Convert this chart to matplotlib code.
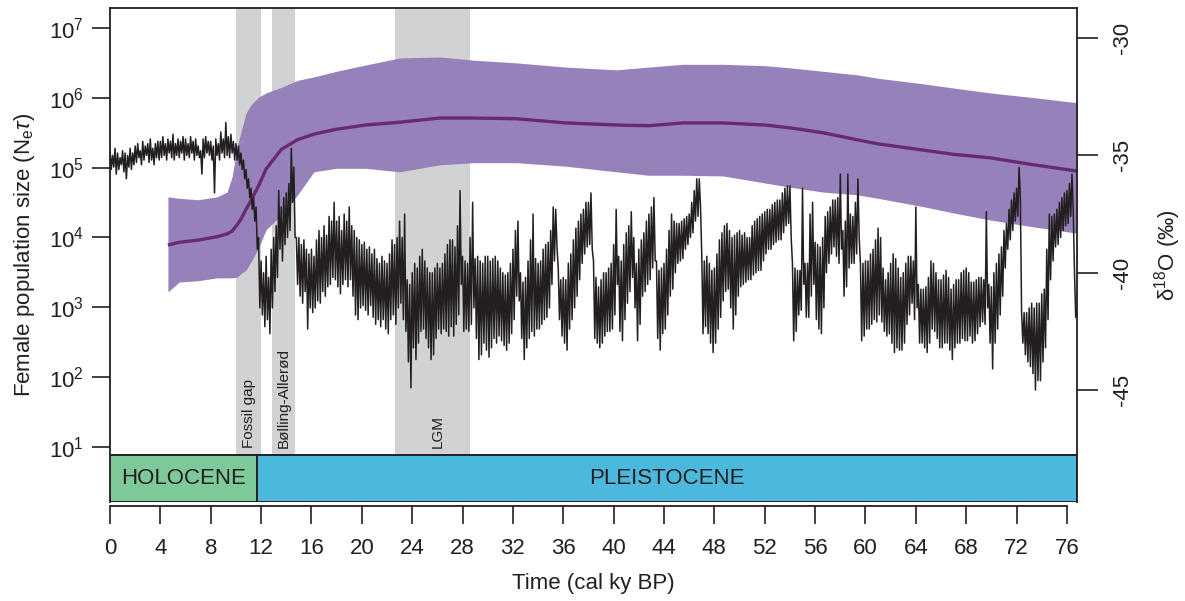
import numpy as np
import matplotlib
matplotlib.use('Agg')
import matplotlib.pyplot as plt
import matplotlib.transforms as mtransforms
from matplotlib.patches import Rectangle

plt.rcParams['font.family'] = ['Liberation Sans', 'DejaVu Sans']
plt.rcParams['mathtext.fontset'] = 'custom'
plt.rcParams['mathtext.rm'] = 'Liberation Sans'
plt.rcParams['mathtext.it'] = 'Liberation Sans:italic'
plt.rcParams['axes.unicode_minus'] = False

# --- data ---
# Ne*tau skyline (log10), median and 95% band
band_age = [4.6, 5.5, 7.0, 8.5, 9.3, 9.7, 10.1, 10.4, 10.8, 11.2, 11.8, 12.4,
            13.6, 14.9, 16.2, 18.0, 20.3, 23.0, 26.2, 28.8, 32.3, 36.2, 40.2,
            42.8, 45.5, 48.7, 52.0, 54.0, 56.6, 59.3, 61.0, 64.6, 67.0, 69.9,
            73.0, 76.8]
log_ne_hi = [4.58, 4.56, 4.54, 4.58, 4.65, 4.87, 5.30, 5.51, 5.78, 5.90, 6.01, 6.07,
             6.15, 6.25, 6.30, 6.38, 6.47, 6.57, 6.585, 6.54, 6.50, 6.44, 6.40,
             6.44, 6.48, 6.48, 6.46, 6.43, 6.38, 6.33, 6.28, 6.20, 6.14, 6.07,
             6.01, 5.93]
log_ne_med = [3.89, 3.93, 3.96, 4.01, 4.05, 4.09, 4.18, 4.26, 4.40, 4.53, 4.74, 4.98,
              5.26, 5.40, 5.48, 5.55, 5.61, 5.65, 5.71, 5.71, 5.70, 5.64, 5.61,
              5.60, 5.64, 5.64, 5.61, 5.57, 5.50, 5.40, 5.34, 5.25, 5.19, 5.14,
              5.05, 4.95]
log_ne_lo = [3.22, 3.36, 3.38, 3.42, 3.42, 3.42, 3.43, 3.48, 3.53, 3.65, 3.85, 4.11,
             4.32, 4.61, 4.94, 4.99, 4.99, 4.94, 5.04, 5.07, 5.07, 5.02, 4.94,
             4.89, 4.89, 4.88, 4.78, 4.72, 4.65, 4.61, 4.56, 4.44, 4.35, 4.25,
             4.16, 4.06]

# NGRIP d18O: highest and lowest value in each 0.2 ky step (0 - 76.8 ky)
d18o_hi = [
    -34.8, -35.0, -34.7, -34.9, -35.1, -34.8, -34.9, -35.0, -34.7, -34.9,
    -34.6, -34.5, -34.8, -34.4, -34.6, -34.5, -34.3, -34.7, -34.5, -34.4,
    -34.4, -34.2, -34.5, -34.3, -34.4, -34.1, -34.5, -34.3, -34.4, -34.2,
    -34.3, -34.5, -34.2, -34.4, -34.3, -34.6, -34.8, -34.3, -34.2, -34.4,
    -34.4, -34.6, -34.3, -34.5, -34.0, -34.3, -33.6, -34.2, -34.1, -34.4,
    -34.5, -34.6, -34.9, -35.2, -35.6, -36.0, -36.4, -36.8, -37.2, -38.5,
    -39.5, -40.0, -39.3, -40.2, -39.0, -38.5, -38.0, -36.5, -37.2, -36.8,
    -36.6, -36.2, -34.7, -35.5, -38.5, -38.5, -38.8, -38.6, -39.0, -39.2,
    -39.0, -39.3, -38.6, -38.2, -38.5, -38.0, -38.4, -37.6, -37.8, -37.0,
    -37.8, -37.6, -38.2, -37.5, -37.8, -37.2, -38.0, -38.2, -38.5, -38.6,
    -38.8, -38.7, -39.0, -38.9, -39.2, -39.0, -39.4, -39.6, -39.3, -39.5,
    -39.6, -39.2, -38.6, -38.8, -38.5, -37.8, -38.5, -37.5, -40.3, -40.5,
    -40.0, -39.6, -39.8, -39.3, -39.0, -39.5, -39.8, -40.0, -40.0, -39.8,
    -39.6, -39.8, -39.6, -39.2, -38.8, -38.6, -38.6, -38.9, -38.0, -36.5,
    -39.3, -39.5, -39.6, -38.5, -37.0, -39.4, -39.3, -39.5, -39.6, -39.3,
    -39.3, -39.5, -39.4, -39.3, -39.5, -39.8, -40.0, -40.1, -40.0, -39.6,
    -39.0, -38.2, -37.8, -40.0, -40.4, -40.2, -39.5, -38.6, -37.5, -39.4,
    -39.6, -39.5, -39.0, -38.8, -38.7, -38.2, -37.2, -37.3, -39.8, -40.3,
    -40.2, -40.3, -39.6, -39.2, -38.6, -38.1, -37.8, -37.5, -37.3, -37.0,
    -37.0, -36.6, -39.5, -40.2, -40.6, -40.3, -40.0, -40.0, -39.8, -39.6,
    -38.8, -37.3, -39.3, -39.5, -38.8, -38.3, -38.0, -37.4, -38.5, -39.6,
    -39.0, -38.6, -38.3, -37.8, -37.5, -37.2, -36.8, -39.5, -39.9, -39.8,
    -39.6, -39.0, -38.2, -37.5, -37.8, -37.9, -37.9, -37.8, -37.7, -37.6,
    -37.5, -37.0, -36.5, -36.0, -36.0, -39.3, -39.5, -39.3, -39.6, -39.9,
    -39.8, -39.2, -38.6, -38.3, -38.0, -37.9, -38.2, -38.5, -38.4, -38.3,
    -38.2, -38.4, -38.3, -38.5, -38.5, -38.0, -37.8, -37.7, -37.6, -37.5,
    -37.4, -37.3, -37.3, -37.1, -37.0, -36.9, -36.9, -36.6, -36.4, -36.3,
    -36.3, -39.6, -39.8, -39.9, -39.9, -36.4, -39.6, -39.6, -37.5, -37.0,
    -38.7, -38.8, -38.9, -38.5, -37.6, -37.4, -37.2, -36.9, -36.9, -36.8,
    -35.8, -38.2, -37.8, -35.8, -37.5, -37.6, -37.0, -36.0, -39.6, -39.6,
    -39.5, -39.5, -39.2, -39.0, -38.6, -38.1, -38.5, -39.8, -40.3, -40.0,
    -39.6, -39.2, -39.4, -39.8, -40.2, -40.0, -39.6, -39.3, -39.3, -39.5,
    -37.2, -40.5, -40.7, -40.7, -40.6, -40.2, -39.5, -39.6, -40.0, -40.3,
    -40.3, -40.1, -39.9, -40.2, -40.7, -40.5, -40.3, -40.3, -40.0, -39.9,
    -39.8, -40.0, -40.4, -40.4, -40.3, -40.2, -40.2, -40.3, -37.4, -40.5,
    -40.6, -40.0, -39.6, -39.2, -38.9, -38.2, -37.9, -37.3, -36.9, -36.6,
    -36.4, -35.5, -41.7, -41.7, -41.7, -41.5, -41.3, -41.5, -41.3, -41.3,
    -40.9, -40.7, -39.0, -37.5, -37.6, -37.5, -37.3, -37.0, -36.8, -36.6,
    -36.5, -36.2, -35.8, -40.0, -41.5,
]
d18o_lo = [
    -35.6, -35.5, -35.8, -35.6, -35.4, -35.7, -36.0, -35.5, -35.6, -35.4,
    -35.3, -35.1, -35.4, -35.2, -35.0, -35.3, -35.2, -35.4, -35.1, -35.2,
    -35.1, -35.0, -35.2, -34.9, -35.1, -35.2, -35.0, -35.1, -34.9, -35.2,
    -35.0, -35.1, -34.9, -35.2, -35.0, -35.1, -35.8, -35.1, -34.9, -35.0,
    -35.2, -36.6, -35.0, -35.2, -34.9, -35.1, -35.0, -35.1, -34.9, -35.2,
    -35.2, -35.4, -35.6, -36.0, -36.4, -36.8, -37.3, -37.8, -39.0, -41.5,
    -41.8, -42.3, -42.0, -42.6, -41.5, -40.8, -40.2, -39.0, -39.5, -38.8,
    -38.5, -38.2, -37.0, -38.5, -40.5, -41.0, -41.3, -40.8, -42.4, -41.5,
    -41.7, -41.5, -41.2, -41.3, -40.8, -41.0, -40.6, -40.5, -40.2, -40.3,
    -40.6, -40.9, -40.5, -40.3, -40.6, -40.3, -41.0, -41.8, -42.0, -41.5,
    -41.4, -41.6, -41.8, -41.4, -41.9, -42.2, -42.0, -42.3, -42.0, -42.4,
    -42.6, -42.0, -41.8, -42.2, -41.5, -41.3, -42.0, -42.5, -43.8, -44.9,
    -43.2, -43.7, -43.0, -42.5, -42.4, -42.8, -43.2, -43.7, -43.5, -42.8,
    -42.4, -42.6, -42.4, -42.5, -42.7, -42.3, -42.7, -42.2, -41.8, -40.5,
    -42.5, -42.4, -42.5, -42.2, -41.5, -42.8, -43.7, -43.5, -43.0, -43.3,
    -43.6, -43.2, -42.8, -43.0, -42.7, -42.9, -43.1, -43.3, -43.0, -42.6,
    -42.0, -41.0, -41.2, -42.8, -43.7, -43.2, -42.8, -42.5, -42.7, -42.4,
    -42.4, -42.2, -42.0, -41.9, -41.5, -40.5, -39.5, -38.9, -42.0, -42.7,
    -43.0, -43.3, -42.4, -42.0, -41.5, -41.0, -40.3, -39.6, -39.2, -38.9,
    -38.8, -39.0, -42.8, -43.0, -43.2, -43.0, -42.7, -42.5, -42.5, -42.4,
    -41.8, -40.5, -42.5, -42.9, -42.0, -41.3, -40.8, -40.2, -41.5, -42.9,
    -42.2, -41.0, -40.8, -40.5, -40.3, -39.8, -39.5, -42.8, -43.3, -42.6,
    -42.4, -41.8, -41.0, -40.7, -40.0, -39.6, -39.5, -39.4, -39.0, -38.8,
    -38.5, -38.3, -37.8, -37.6, -37.2, -42.6, -42.3, -42.6, -43.0, -43.4,
    -43.0, -42.4, -41.9, -41.2, -40.8, -40.7, -41.5, -42.4, -41.8, -41.0,
    -40.6, -40.5, -40.4, -40.3, -40.3, -40.1, -40.0, -39.9, -39.9, -39.5,
    -39.2, -39.0, -39.0, -38.8, -38.7, -38.6, -38.6, -38.3, -38.0, -37.9,
    -38.5, -42.9, -42.5, -41.8, -41.6, -40.5, -41.9, -41.9, -41.0, -40.5,
    -42.0, -42.4, -42.6, -41.5, -40.0, -39.6, -39.2, -38.9, -39.3, -39.6,
    -39.0, -41.0, -40.6, -39.8, -39.6, -39.6, -39.2, -38.5, -42.9, -42.7,
    -42.4, -42.4, -42.2, -42.0, -42.1, -41.8, -42.1, -42.5, -42.7, -42.6,
    -43.0, -43.4, -43.2, -43.3, -43.3, -43.0, -42.2, -41.8, -41.3, -42.0,
    -41.5, -43.0, -43.0, -43.2, -43.4, -43.0, -42.4, -42.5, -42.8, -43.2,
    -43.2, -43.0, -43.0, -43.3, -43.7, -43.2, -43.0, -43.0, -42.8, -42.9,
    -42.9, -42.7, -43.0, -42.9, -42.6, -42.3, -42.1, -42.2, -41.5, -43.0,
    -44.1, -43.0, -42.4, -41.8, -41.0, -39.8, -39.0, -38.6, -38.2, -37.8,
    -37.6, -36.8, -43.0, -43.5, -43.8, -44.0, -44.3, -45.0, -44.6, -44.6,
    -43.8, -43.2, -42.0, -40.3, -39.5, -38.9, -38.8, -38.5, -38.2, -38.0,
    -37.9, -37.6, -37.3, -41.9, -42.2,
]
step_age = np.round(np.arange(len(d18o_hi)) * 0.2, 1)

# shaded periods (ky BP)
period_names = ['Fossil gap', 'Bølling-Allerød', 'LGM']
period_start = [10.0, 12.9, 22.6]
period_end = [12.0, 14.7, 28.6]
period_label_x = [11.0, 13.8, 26.0]

# geological epochs
epoch_names = ['HOLOCENE', 'PLEISTOCENE']
epoch_start = [0.0, 11.7]
epoch_end = [11.7, 76.8]
epoch_colors = ['#7DC99A', '#4BB8DD']

ink = '#231F20'

# the record swings between its high and low within every step
d18o_age = np.column_stack([step_age, step_age + 0.1]).ravel()
d18o = np.column_stack([d18o_hi, d18o_lo]).ravel()

fig = plt.figure(figsize=(11.85, 6.01), dpi=100)
ax = fig.add_axes([110 / 1185, 1 - 502 / 601, 967 / 1185, 494 / 601])
ax.set_yscale('log')
ax.set_xlim(0, 76.8)
ax.set_ylim(10 ** 0.209, 10 ** 7.2865)

bar_top = 47 / 494  # epoch bar height in axes fraction
trans = mtransforms.blended_transform_factory(ax.transData, ax.transAxes)

for name, a, b, lx in zip(period_names, period_start, period_end, period_label_x):
    ax.axvspan(a, b, ymin=bar_top, ymax=1, color='#D1D2D4', lw=0, zorder=0)
    ax.text(lx, bar_top + 0.015, name, transform=trans, rotation=90,
            ha='center', va='bottom', fontsize=11, color=ink, zorder=3)

ax.fill_between(band_age, 10 ** np.array(log_ne_lo), 10 ** np.array(log_ne_hi),
                color='#9681BB', lw=0, zorder=1)
ax.plot(band_age, 10 ** np.array(log_ne_med), color='#6A2A72', lw=2.4,
        solid_capstyle='butt', zorder=2)

for name, a, b, c in zip(epoch_names, epoch_start, epoch_end, epoch_colors):
    ax.add_patch(Rectangle((a, 0), b - a, bar_top, transform=trans,
                           facecolor=c, edgecolor=ink, lw=1.4, zorder=5))
    ax.text((a + b) / 2, bar_top / 2, name, transform=trans, ha='center',
            va='center', fontsize=16, color=ink, zorder=6)

ax.set_yticks([10.0 ** k for k in range(1, 8)])
ax.set_yticklabels([r'$10^{%d}$' % k for k in range(1, 8)])
ax.minorticks_off()
ax.set_xticks(range(0, 77, 4))
ax.tick_params(axis='x', length=13, width=1.2, pad=10, labelsize=16, colors=ink)
ax.tick_params(axis='y', length=13, width=1.2, pad=6, labelsize=16, colors=ink)
ax.spines['bottom'].set_position(('outward', 3))
ax.spines['bottom'].set_bounds(0, 76)
ax.spines['right'].set_visible(False)
for s in ax.spines.values():
    s.set_linewidth(1.3)
    s.set_color(ink)
ax.set_xlabel('Time (cal ky BP)', fontsize=16, color=ink, labelpad=10)
ax.set_ylabel(r'Female population size (N$_{\mathrm{e}}\tau$)', fontsize=16,
              color=ink, labelpad=8)

ax2 = ax.twinx()
ax2.plot(d18o_age, d18o, color=ink, lw=1.1, zorder=4)
ax2.set_ylim(-49.77, -28.72)
ax2.set_xlim(0, 76.8)
ax2.set_yticks([-30, -35, -40, -45])
ax2.set_yticklabels(['-30', '-35', '-40', '-45'], rotation=90, va='center')
ax2.tick_params(axis='y', length=15, width=1.2, pad=10, labelsize=16, colors=ink)
for k in ['left', 'top', 'bottom']:
    ax2.spines[k].set_visible(False)
ax2.spines['right'].set_linewidth(1.3)
ax2.spines['right'].set_color(ink)
ax2.set_ylabel('δ$^{18}$O (‰)', fontsize=16, color=ink, labelpad=14)

fig.savefig('out.png', dpi=100)
